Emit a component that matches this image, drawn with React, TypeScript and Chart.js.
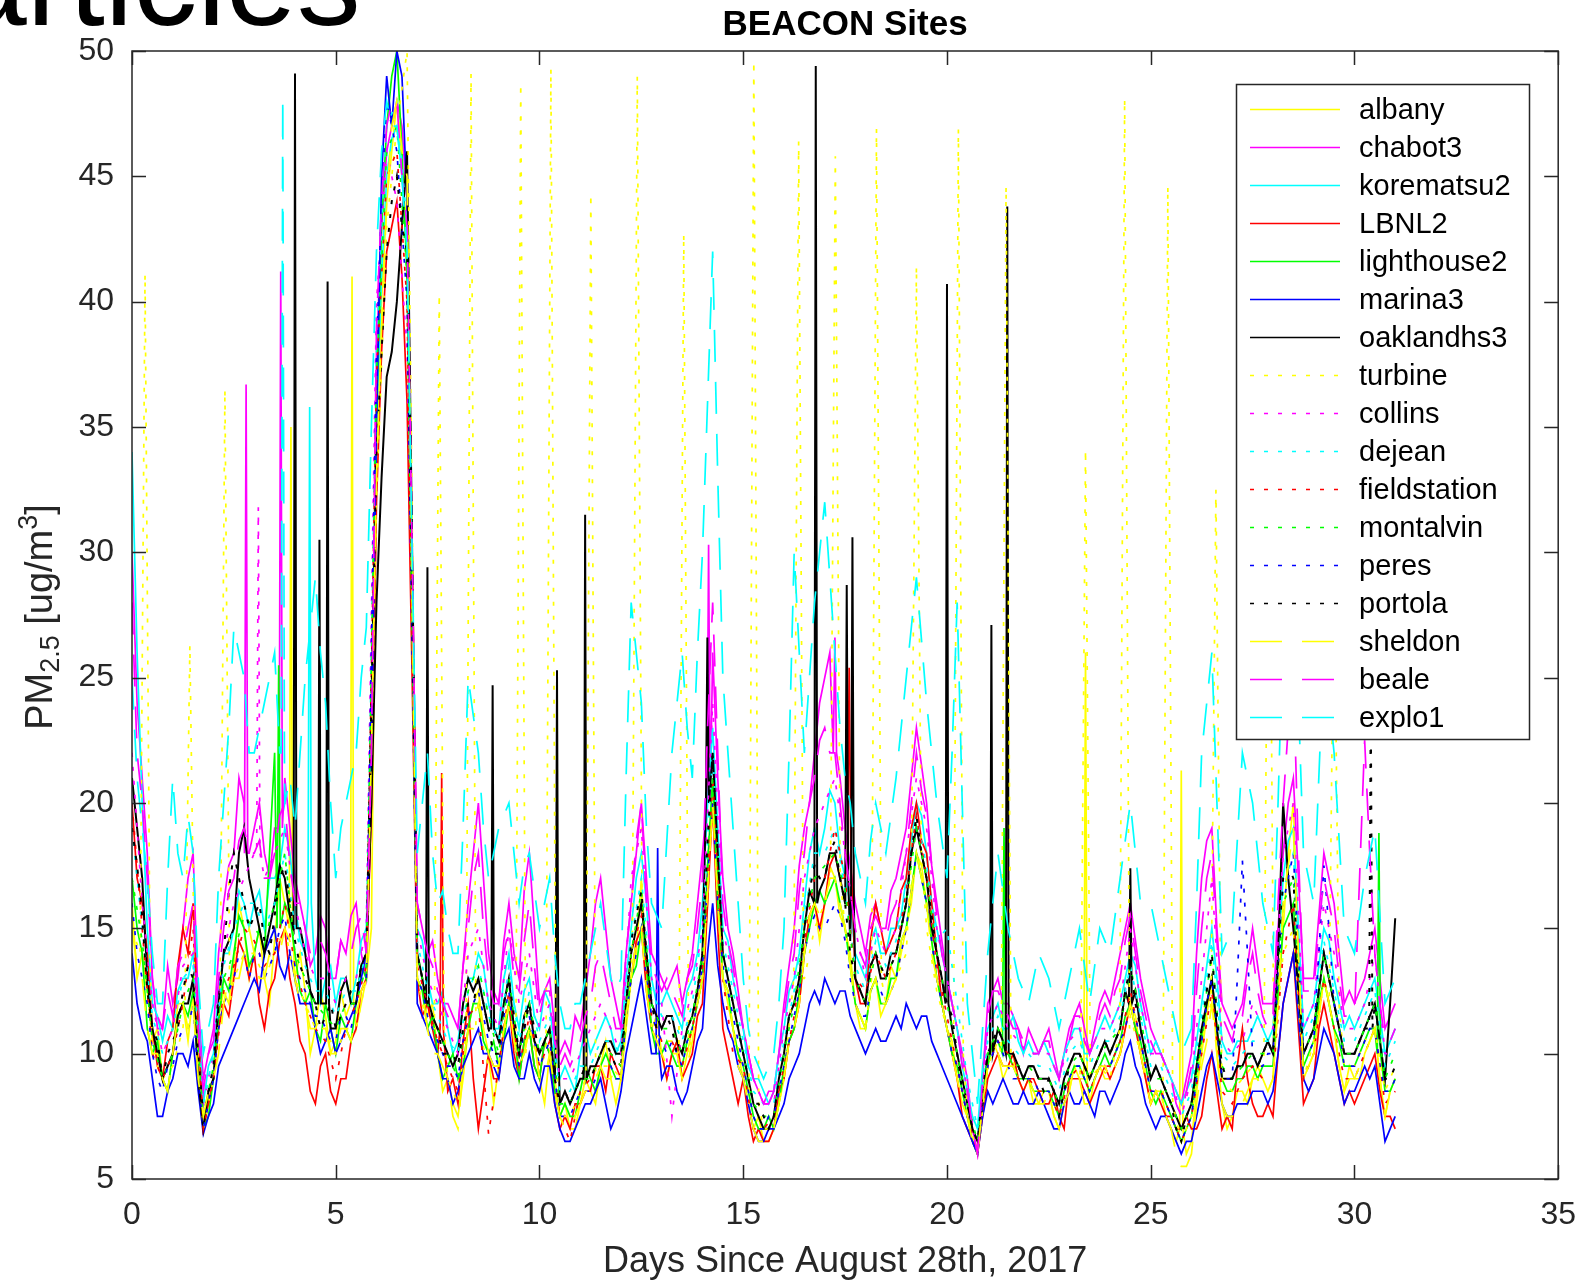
import React, { useEffect, useRef } from 'react';
import { Chart, registerables } from 'chart.js';

Chart.register(...registerables);

const W = 1593;
const H = 1282;
const FONT = '"Liberation Sans", Arial, Helvetica, sans-serif';

// Main samples every 0.25 day from day 0 to day 31 (125 values);
// "Mid" samples sit half way between them (day 0.125, 0.375, ...; 124 values).
const STEP_DAYS = 0.25;

const chartTitle = 'BEACON Sites';
const xAxisLabel = 'Days Since August 28th, 2017';
const xTicks = [0, 5, 10, 15, 20, 25, 30, 35];
const yTicks = [5, 10, 15, 20, 25, 30, 35, 40, 45, 50];

const albany = [
  16, 14, 10.5, 9, 10, 12, 12.5, 7.5,
  9, 12.5, 13.5, 15, 14, 13, 14.5, 16,
  13, 12.5, 11, 11.5, 10.5, 11.5, 11, 13,
  34, 44, 48, 43, 13, 11.5, 10, 9,
  7.5, 11, 12.5, 10, 9.5, 12, 9.5, 11,
  9, 10, 7.5, 7, 8, 8.5, 9.5, 9,
  9, 13, 17, 11, 10, 10, 9, 11,
  13, 21, 13, 11, 9, 7, 6.5, 7,
  9, 11, 14, 16, 16, 17, 15, 12,
  11, 13, 12, 13, 15, 18, 16, 13,
  11, 9, 7.5, 6, 9.5, 10, 9.5, 9,
  9, 8, 8.5, 7, 8.5, 9, 8, 9.5,
  9, 10, 12, 10, 8, 8.5, 7, 5.5,
  6.5, 10, 13, 8, 7.5, 8.5, 9, 9,
  9, 15, 20, 9, 10, 13, 11, 8.5,
  9, 10, 11, 7.5, 9,
];
const albanyMid = [
  13, 12.5, 11, 8.5, 12, 10.5, 10, 8,
  11.5, 12, 16, 13, 15, 12, 17, 14,
  14, 10, 12.5, 10, 12.5, 10, 12, 15,
  40, 46, 45, 30, 12.5, 12, 8.5, 8,
  9, 12, 11, 8, 11, 10.5, 10, 10.5,
  8, 9, 8, 7, 9, 8, 10.5, 8,
  11, 14, 13, 11.5, 9, 10.5, 10, 12,
  16, 17, 12, 10, 8, 7.5, 6.5, 8,
  10.5, 12, 15.5, 14.5, 17.5, 15.5, 14, 11,
  12.5, 11.5, 13.5, 14, 16, 17.5, 14.5, 12,
  10.5, 8, 7, 8, 10.5, 9, 10, 8.5,
  8, 8.5, 7.5, 8, 9.5, 8.5, 9, 9,
  9.5, 11, 11.5, 9, 8.5, 7.5, 6.5, 6,
  8.5, 11.5, 10, 7, 8.5, 8, 9.5, 8.5,
  12, 18, 14, 9.5, 11.5, 12, 9.5, 9.5,
  9, 10.5, 9, 8.5,
];
const chabot3 = [
  30, 21, 13, 11, 12, 15, 18, 9,
  11, 16, 18, 20, 19, 18, 19, 21,
  17, 15, 14, 15, 13, 14, 16, 13,
  38, 46, 48, 44, 16, 14, 13, 12,
  11, 16, 20, 14, 12, 16, 13, 18,
  12, 13, 10, 10, 11, 14, 17, 13,
  11, 16, 20, 14, 13, 13, 12, 14,
  18, 26, 17, 14, 11, 9, 8, 8.5,
  12, 15, 19, 22, 25, 24, 19, 16,
  14, 16, 15, 17, 19, 23, 20, 16,
  13, 11, 9, 6, 12, 13, 12, 11,
  11, 10, 11, 9, 11, 12, 10, 12,
  12, 14, 16, 13, 11, 10, 9, 8,
  10, 17, 19, 12, 11, 12, 15, 12,
  12, 18, 21, 13, 13, 18, 16, 12,
  12, 13, 15, 11, 12,
];
const chabot3Mid = [
  24, 18, 11, 13.5, 13, 17, 12, 10,
  14, 17.5, 21, 18, 20, 17, 22, 19,
  16, 13.5, 15.5, 13, 14.5, 15.5, 14, 20,
  43, 47, 47, 30, 15, 14.5, 12, 11.5,
  13.5, 18, 17, 12.5, 14.5, 14, 16.5, 15,
  12.5, 11, 10.5, 11.5, 12.5, 16, 15, 12,
  14, 18, 17, 13.5, 12.5, 13.5, 13, 16,
  22, 21, 15, 12.5, 10, 8.5, 8.5, 10,
  13.5, 17.5, 20, 24, 26, 21, 17.5, 15,
  15.5, 15, 16.5, 18, 21, 21.5, 17.5, 14.5,
  12, 10, 7, 9, 12.5, 12, 11.5, 10,
  10.5, 10.5, 10, 10, 11.5, 11, 11, 12.5,
  13, 15, 14.5, 12, 10.5, 9.5, 8.5, 9,
  14, 18.5, 15, 11.5, 11.5, 13.5, 13.5, 12,
  15, 20, 17, 13, 15.5, 17, 14, 12.5,
  12.5, 14, 13, 11.5,
];
const korematsu2 = [
  34, 20, 12, 10.5, 11, 13, 14, 8,
  10, 14, 15, 16, 16, 15, 17, 19,
  16, 14, 13, 13, 12, 13, 13, 15,
  35, 45, 47, 42, 15, 13, 12, 11,
  10.5, 13, 14, 12, 11, 14, 11, 13,
  11, 12, 9, 9, 10, 10, 11, 11,
  10.5, 15, 18, 13, 12, 12, 11, 13,
  16, 23, 15, 13, 11, 9, 8.5, 8.5,
  11, 13, 16, 19, 19, 20, 17, 14,
  13, 15, 14, 15, 17, 20, 18, 15,
  13, 11, 8.5, 7, 11, 12, 11, 10.5,
  10.5, 10, 10, 9, 10.5, 11, 10, 11,
  11, 12, 14, 12, 10, 10, 9, 8,
  9, 12, 15, 10.5, 10, 10.5, 11, 11,
  11, 17, 19, 11, 12, 15, 13, 11,
  11, 12, 13, 10, 11,
];
const korematsu2Mid = [
  26, 15, 11.5, 11.5, 12.5, 13, 11.5, 9.5,
  12.5, 14, 16.5, 15, 16.5, 17, 17.5, 18,
  14.5, 14, 12, 13.5, 13, 12, 14.5, 22,
  41, 46.5, 45, 28, 14.5, 12, 12.5, 10,
  12, 13, 13.5, 11, 13, 12, 12.5, 11.5,
  12.5, 10, 9.5, 8.5, 11, 10.5, 11.5, 10,
  13, 17, 16, 12, 12.5, 11.5, 12.5, 14,
  20, 19, 14.5, 12, 9.5, 9, 8, 10,
  12.5, 14, 18, 18, 20.5, 18, 16, 13.5,
  14.5, 14, 15, 15.5, 18.5, 19.5, 16, 14,
  12, 9.5, 7.5, 9.5, 11.5, 11, 11.5, 10,
  10, 10.5, 9.5, 10, 11, 10, 10.5, 11.5,
  11.5, 13, 13.5, 11, 10.5, 9.5, 8.5, 8.5,
  10.5, 13.5, 13, 10, 10.5, 10.5, 11.5, 10.5,
  14, 18.5, 15, 11.5, 13.5, 14.5, 12, 11.5,
  11.5, 12.5, 11.5, 10.5,
];
const LBNL2 = [
  20, 16, 11, 9, 11, 15, 16, 7,
  9, 12, 13, 14, 14, 11, 13, 15,
  12, 10, 8, 10, 8, 9, 11, 13,
  32, 42, 44, 36, 13, 12, 10, 8.5,
  8, 12, 7, 10, 9, 12, 9, 11,
  9, 10, 7, 7, 8, 8.5, 9.5, 10,
  9, 13, 15, 11, 10, 10, 9, 10,
  12, 20, 11, 9, 9, 6.5, 6.5, 7,
  9, 11, 14, 16, 16, 18, 17, 13,
  12, 16, 14, 15, 17, 20, 18, 14,
  11, 9, 7, 6, 9, 10, 9.5, 9,
  9, 8.5, 8, 7.5, 9, 9, 8, 9,
  9, 10, 12, 10, 8, 8, 7.5, 7,
  7, 7.5, 10, 7, 7, 11, 8, 7.5,
  7.5, 12, 14, 8, 9, 12, 10, 8,
  8, 9, 10, 7.5, 7,
];
const LBNL2Mid = [
  17, 14, 9.5, 10.5, 13.5, 14, 11, 8,
  11, 11.5, 14.5, 13, 12, 12.5, 14.5, 13,
  10.5, 8.5, 9.5, 8.5, 9, 10.5, 12.5, 20,
  38, 43, 41, 25, 11.5, 11, 9, 9,
  10.5, 9, 8.5, 9, 11, 10, 10.5, 9.5,
  10.5, 8, 7.5, 8, 8.5, 9.5, 8.5, 9.5,
  11.5, 14.5, 12.5, 10.5, 9, 10.5, 9.5, 11.5,
  16, 15, 10, 8, 7.5, 7, 6.5, 8.5,
  10.5, 12, 15.5, 15, 17.5, 17, 15.5, 12,
  14.5, 15, 14.5, 16.5, 19, 18.5, 16, 12,
  10, 7.5, 6.5, 7.5, 9.5, 9.5, 10, 8.5,
  9, 8, 8.5, 7, 9, 8.5, 8.5, 9.5,
  9.5, 11, 11, 9, 8.5, 7.5, 7, 7.5,
  7, 9, 8.5, 7.5, 9.5, 9, 7.5, 8,
  10, 13, 11, 8.5, 11, 11, 9, 8.5,
  8.5, 9.5, 8.5, 7.5,
];
const lighthouse2 = [
  17, 14, 10, 9, 10, 12, 12.5, 7,
  9, 13, 14, 15, 14, 14, 22, 16,
  14, 12, 11, 12, 10, 11, 12, 13,
  36, 47, 50, 41, 13, 11, 10, 9.5,
  9, 11, 12, 10, 9.5, 12, 9, 11,
  9, 10, 7.5, 7.5, 8.5, 9, 9.5, 9.5,
  9, 13, 15, 11, 10, 10, 9.5, 11,
  13, 21, 13, 11, 9.5, 7.5, 7, 7,
  9.5, 11, 14, 16, 16, 17, 15, 12,
  11, 13, 12, 13, 15, 18, 16, 13,
  11, 9.5, 7.5, 6, 9.5, 10.5, 10, 9,
  9, 8.5, 8.5, 7.5, 9, 9.5, 8.5, 9.5,
  9.5, 10.5, 12, 10.5, 8.5, 8.5, 7.5, 6.5,
  7.5, 10.5, 13, 9, 8.5, 9, 9.5, 9.5,
  9.5, 15, 16, 9.5, 10.5, 13, 11, 9.5,
  9.5, 10.5, 11, 8.5, 9,
];
const lighthouse2Mid = [
  15, 11, 10.5, 8.5, 11.5, 11.5, 9, 7.5,
  11.5, 12.5, 15.5, 13.5, 15, 18, 18, 15.5,
  12.5, 12.5, 10.5, 11, 11.5, 10.5, 13.5, 24,
  43, 49, 46, 27, 12.5, 11.5, 9, 10,
  9.5, 12, 10.5, 10.5, 10.5, 11, 10.5, 9.5,
  10.5, 8.5, 8, 7.5, 9.5, 8.5, 10, 9,
  11.5, 13.5, 13.5, 10, 10.5, 9.5, 10.5, 12,
  17.5, 16, 12.5, 10, 8.5, 7, 7.5, 8,
  10.5, 12.5, 15, 16.5, 16.5, 16, 13.5, 11.5,
  12.5, 12, 13, 14.5, 16.5, 17, 14.5, 12,
  10, 8.5, 6.5, 8, 10.5, 10, 9.5, 9,
  8.5, 8.5, 8, 8.5, 9.5, 9, 9, 10,
  10, 11.5, 11, 9.5, 8, 8, 7, 7,
  9, 12, 11, 8.5, 9, 9.5, 9, 9.5,
  12.5, 15.5, 12.5, 10, 12, 12, 10.5, 9.5,
  10, 11, 9.5, 8.5,
];
const marina3 = [
  14, 11, 9, 7.5, 9, 10, 10.5, 6.8,
  8, 10, 11, 12, 13, 14, 15, 13,
  13, 12, 11, 10.5, 10, 11, 12, 14,
  35, 49, 50, 44, 12, 11, 10, 9,
  8.5, 10, 11, 10, 9, 11, 9, 10,
  8.5, 9.5, 7, 6.5, 7.5, 8, 9, 7,
  8.5, 11, 13, 10, 9, 9.5, 8, 9.5,
  11, 16, 12, 10.5, 9, 7, 6.5, 7,
  8, 9.5, 11, 12.5, 13, 12, 12.5, 11,
  10, 11, 10.5, 11.5, 12, 11, 11.5, 10,
  9, 8, 7, 6, 8.5, 8.5, 8.5, 8,
  8, 8.5, 7.5, 7, 8.5, 8, 8, 8.5,
  8, 9, 10.5, 9, 7.5, 7.5, 7, 6,
  6.5, 8.5, 10, 8, 7.5, 8, 8.5, 8.5,
  8.5, 12, 14, 9, 9, 11, 10, 8,
  8.5, 9.5, 9.5, 6.5, 7.5,
];
const marina3Mid = [
  12, 10.5, 7.5, 8.5, 10, 9.5, 8.5, 7.5,
  9.5, 10.5, 11.5, 12.5, 12.5, 14.5, 13.5, 14,
  12, 12, 10, 11, 10.5, 11.5, 13, 22,
  45, 47, 49, 30, 11.5, 10.5, 9, 8,
  9.5, 10.5, 10, 9.5, 10.5, 9.5, 9, 9,
  9.5, 8, 6.5, 7, 8, 8.5, 8, 7.5,
  10, 12, 11.5, 9, 9.5, 8.5, 8.5, 10.5,
  14, 13.5, 11, 9.5, 8, 6.5, 7, 7.5,
  9, 10, 12, 12, 12.5, 12.5, 11.5, 10.5,
  10.5, 10.5, 11, 11, 11.5, 11.5, 10.5, 9.5,
  8.5, 7.5, 6.5, 7.5, 8, 9, 8, 8.5,
  8, 8, 7, 8, 8, 8.5, 7.5, 8.5,
  8.5, 10, 9.5, 8, 7, 7.5, 6.5, 6.5,
  7.5, 9.5, 9, 7.5, 8, 8, 8.5, 8,
  10, 13, 11.5, 8.5, 10, 10.5, 9, 8.5,
  9, 9, 8, 7,
];
const oaklandhs3 = [
  21, 17, 11, 9, 10, 12, 13, 7,
  9, 14, 15, 19, 16, 14, 16, 17,
  15, 14, 12, 12, 11, 13, 12, 14,
  28, 37, 40, 46, 14, 12, 11, 10,
  10, 13, 13, 11, 10.5, 13, 10, 12,
  10, 11, 8, 8, 9, 9.5, 10, 10.5,
  10, 14, 16, 12, 11, 11.5, 10, 11.5,
  14, 22, 14, 12, 10, 8, 7, 7.5,
  10, 12, 15, 17, 17, 18, 16, 13,
  12, 14, 13, 14, 16, 19, 17, 14,
  12, 10, 8, 6.5, 10, 11, 10, 9.5,
  9.5, 9, 9, 8, 9.5, 10, 9, 10,
  10, 11, 14, 11, 9, 9, 8, 7,
  8, 11, 13, 9, 9, 9.5, 10, 10,
  10, 20, 15, 10, 11, 14, 12, 10,
  10, 11, 12, 9, 15.4,
];
const oaklandhs3Mid = [
  19, 13, 10, 9.5, 11.5, 12, 9, 8.5,
  12, 14.5, 18, 17, 15, 15, 17.5, 15.5,
  15, 12.5, 13, 11, 12.5, 12, 13.5, 20,
  33, 38, 43, 30, 13, 11.5, 10.5, 9.5,
  12, 12.5, 12, 10, 12, 11, 11.5, 10.5,
  10.5, 9, 8.5, 8.5, 9.5, 9.5, 10.5, 10,
  12, 15, 14, 11.5, 11.5, 10.5, 11, 12.5,
  18, 18, 13, 11, 9, 7.5, 7, 9,
  11.5, 13, 16.5, 16.5, 18, 17, 14.5, 12.5,
  13.5, 13, 14, 15, 18, 18, 15, 13,
  11, 9, 7, 8, 10.5, 10.5, 10, 9,
  9.5, 9, 8.5, 9, 10, 9.5, 9.5, 10.5,
  10.5, 12.5, 12.5, 10, 9.5, 8.5, 7.5, 7.5,
  9.5, 12, 11, 9, 9.5, 10, 9.5, 10.5,
  14, 17, 12.5, 10.5, 12.5, 13, 11, 10,
  10.5, 11.5, 10.5, 12,
];
const turbine = [
  15, 13, 10, 9, 9.5, 11, 12, 7,
  9, 12, 13, 14, 14, 13, 14, 15,
  13, 12, 11, 11, 10, 11, 11, 13,
  32, 43, 47, 50, 13, 11, 10, 9,
  8, 10.5, 11, 9.5, 9.5, 12, 9.5, 11,
  9.5, 10, 7.5, 7.5, 8.5, 8.5, 9.5, 9.5,
  9, 13, 15, 11, 10.5, 10.5, 9.5, 11,
  13, 20, 13, 11, 9.5, 7.5, 7, 7,
  9, 10.5, 13, 15, 16, 17, 15, 12,
  11, 13, 12, 13, 14, 17, 15, 12.5,
  11, 9.5, 7.5, 6, 9.5, 10.5, 9.5, 9,
  9, 8.5, 8.5, 7.5, 9, 9.5, 8.5, 9.5,
  9, 10, 11.5, 10, 8.5, 8.5, 7.5, 6.5,
  7.5, 10.5, 13, 9, 8.5, 9, 9.5, 9.5,
  9, 14, 15, 9, 10.5, 13, 11, 9.5,
  9.5, 10.5, 11, 8.5, 9.5,
];
const collins = [
  22, 16, 12, 10, 11, 13.5, 14, 8,
  10, 14, 16, 17, 18, 17, 18, 19,
  16, 14, 13, 13, 12, 13, 13, 15,
  40, 46, 44, 38, 15, 13, 12, 11,
  10, 14, 15, 12, 11, 15, 12, 14,
  11, 12, 9, 9, 10, 11, 12, 11,
  10, 17, 19, 13, 12, 7.5, 11, 12.5,
  15, 24, 15, 13, 11, 9, 8, 8,
  11, 13, 17, 19, 20, 21, 18, 15,
  13, 15, 14, 15, 18, 21, 19, 15,
  13, 11, 8.5, 6, 11, 12, 11, 10.5,
  10, 10, 10, 9, 10.5, 11, 10, 11,
  11, 12, 15, 12, 10, 10, 9, 7.5,
  9, 13, 17, 10.5, 10, 10.5, 12, 11,
  11, 18, 20, 11, 12, 16, 14, 11,
  11, 12, 14, 10, 10,
];
const dejean = [
  19, 15, 11.5, 10, 11, 13, 13.5, 8,
  10, 13.5, 15, 16, 16, 15, 16, 18,
  15, 13.5, 12.5, 12.5, 11.5, 12.5, 12.5, 14,
  38, 47, 48, 43, 14.5, 12.5, 11.5, 10.5,
  10, 12.5, 13.5, 11.5, 10.5, 13.5, 10.5, 12.5,
  10.5, 11.5, 8.5, 8.5, 9.5, 9.5, 10.5, 10.5,
  10, 14.5, 17, 12.5, 11.5, 11.5, 10.5, 12,
  15, 22, 14.5, 12.5, 10.5, 8.5, 8, 8,
  10.5, 12.5, 15.5, 18, 18, 19, 16.5, 13.5,
  12.5, 14.5, 13.5, 14.5, 16.5, 19.5, 17.5, 14.5,
  15, 12, 9, 7, 10.5, 11.5, 10.5, 10,
  10, 9.5, 9.5, 8.5, 10, 10.5, 9.5, 10.5,
  10.5, 11.5, 13.5, 11.5, 9.5, 9.5, 8.5, 7.5,
  8.5, 11.5, 14.5, 10, 9.5, 10, 10.5, 10.5,
  10.5, 16.5, 18, 10.5, 11.5, 14.5, 12.5, 10.5,
  10.5, 11.5, 12.5, 9.5, 10.5,
];
const fieldstation = [
  20, 15, 10, 9, 10, 12, 15, 7,
  9, 12.5, 13.5, 15, 14.5, 13.5, 14, 16,
  13.5, 12, 11, 10.5, 9, 11, 12, 13.5,
  37, 45, 46, 40, 13.5, 12, 10.5, 9.5,
  8.5, 11.5, 12, 6.8, 9.5, 12.5, 9.5, 11.5,
  9.5, 10.5, 7.5, 6.5, 8.5, 9, 10, 10,
  9.5, 14, 15.5, 11.5, 10.5, 10.5, 9.5, 11,
  13.5, 21, 13, 10, 9.5, 7, 7, 7.5,
  9.5, 11.5, 14.5, 17, 17, 19, 17, 13,
  12.5, 14, 13, 14, 16.5, 19.5, 17, 13.5,
  11.5, 9.5, 7.5, 6, 9.5, 10.5, 10, 9,
  9, 8.5, 8.5, 7.5, 9, 9.5, 8.5, 9.5,
  9.5, 10.5, 12.5, 10.5, 8.5, 8.5, 7.5, 6.5,
  7.5, 10, 12.5, 8.5, 8, 9, 9.5, 9,
  9, 14, 16, 9, 10, 13, 11, 9,
  9, 10, 11, 8, 8.5,
];
const montalvin = [
  17, 14.5, 10.5, 9, 10, 12, 13, 7.5,
  9.5, 13, 14, 15.5, 15, 14.5, 16, 18,
  14, 13, 12, 11.5, 11, 12, 12, 13.5,
  37, 46, 47, 41, 14, 12, 11, 10,
  9, 12.5, 13.5, 11.5, 10, 13, 10, 12,
  10, 11, 8, 8, 9, 9, 10, 10,
  9.5, 14, 16.5, 12, 11, 11, 10, 11.5,
  14, 21, 14, 12, 10, 8, 7.5, 7.5,
  10, 12, 15, 17, 17.5, 18, 16.5, 13,
  12, 14, 13, 14, 16, 19, 17, 14,
  12, 10, 8, 6.5, 10, 11, 10, 9.5,
  9.5, 9, 9, 8, 9.5, 10, 9, 10,
  10.5, 11, 13.5, 11.5, 9, 9, 8, 7,
  8, 11, 14, 9.5, 9, 9.5, 10, 10,
  10, 16, 17, 10, 11, 14, 12, 10,
  10, 11, 12, 9, 10,
];
const peres = [
  16, 13, 10, 8.5, 9.5, 11, 12, 7,
  9, 12, 13, 14, 14, 13, 14, 15.5,
  13.5, 12.5, 11.5, 11, 10.5, 11.5, 12, 13,
  38, 48, 46, 40, 13, 11.5, 10.5, 9.5,
  9, 11.5, 12.5, 10.5, 9.5, 12.5, 9.5, 11.5,
  9.5, 10.5, 7.5, 7.5, 8.5, 8.5, 9.5, 9.5,
  9, 13, 15, 11.5, 10.5, 10.5, 9.5, 11,
  13.5, 20, 13.5, 11.5, 9.5, 7.5, 7, 7.5,
  9.5, 11.5, 14, 15.5, 15, 16, 14.5, 12,
  11.5, 13, 12, 13, 15, 18, 16, 13,
  11, 9.5, 7.5, 6, 9.5, 10.5, 9.5, 9,
  9, 8.5, 8.5, 7.5, 9, 9.5, 8.5, 9.5,
  9.5, 10.5, 12, 10.5, 8.5, 8.5, 7.5, 6.5,
  7.5, 10.5, 13, 9, 9, 17.7, 10, 9.5,
  10, 16, 18, 10, 10.5, 17.5, 12, 9.5,
  9.5, 10.5, 11, 8.5, 9,
];
const peresMid = [
  14, 12, 9, 9.5, 10.5, 11, 9, 8,
  11, 12.5, 14, 13, 14, 13.5, 15, 14,
  13, 12, 11.5, 10.5, 11.5, 11, 13, 26,
  44, 47, 43, 26, 12.5, 11, 10, 9.5,
  10.5, 12, 11.5, 10, 11.5, 10.5, 11, 10.5,
  10, 9, 7.5, 8, 8.5, 9, 9.5, 9,
  11.5, 14, 13, 11, 10, 10, 10.5, 12,
  17, 16, 12.5, 10.5, 8.5, 7, 7.5, 8.5,
  10.5, 12.5, 15, 15, 15.5, 15.5, 13, 11.5,
  12.5, 12.5, 12.5, 14, 16.5, 17, 14.5, 12,
  10, 8.5, 6.5, 8, 10, 10, 9, 9,
  9, 8.5, 8, 8.5, 9.5, 9, 9, 9.5,
  10, 11, 11.5, 9.5, 8.5, 8, 7, 7,
  9, 12, 11, 9, 13, 14, 9.5, 10,
  13, 17, 14, 10, 14, 15, 11, 9.5,
  10, 11, 9.5, 8.5,
];
const portola = [
  19, 15.5, 11, 9, 10.5, 12.5, 13, 7.5,
  9.5, 14, 18, 16, 15.5, 14.5, 15.5, 17.5,
  14.5, 13, 12, 11.5, 11, 12, 12.5, 14,
  34, 42, 45, 42, 14, 12, 11, 10,
  9.5, 12, 13, 11, 10, 13, 10, 12,
  10, 11, 8, 8, 9, 9, 10, 10,
  9.5, 14.5, 16.5, 12, 11, 11, 10, 11.5,
  14, 22, 14, 12, 10, 8, 7.5, 7.5,
  10, 12, 15, 17.5, 17, 18.5, 16, 13,
  12, 14, 13, 14, 16, 19.5, 17, 14,
  12, 10, 8, 6.5, 10, 11, 10, 9.5,
  9.5, 9, 9, 7.5, 9.5, 10, 9, 10,
  10, 11, 13.5, 11, 9, 9, 8, 6.5,
  8, 11, 14, 9.5, 9, 9.5, 10, 10,
  10, 17, 17, 10, 11, 14, 12, 10,
  10, 11, 12, 9, 9.5,
];
const portolaMid = [
  17.5, 12.5, 10.5, 10, 11, 13.5, 10, 8.5,
  12.5, 16.5, 17, 15, 16, 14, 17, 16,
  13.5, 12.5, 11, 12, 11.5, 12.5, 13.5, 24,
  38, 44, 43, 28, 13, 11.5, 10, 10,
  11, 12, 12, 10, 12, 11.5, 11, 11,
  10.5, 9, 8.5, 8.5, 9.5, 9.5, 10.5, 9.5,
  12, 15.5, 14, 11, 11.5, 10, 11, 12.5,
  18.5, 18, 13, 11, 9, 8, 7, 9,
  11.5, 13, 16.5, 17, 18, 17, 14, 12.5,
  13.5, 13.5, 13.5, 15, 18, 18, 15.5, 13,
  11.5, 8.5, 7, 8.5, 10.5, 10.5, 10, 9,
  9.5, 8.5, 8.5, 8.5, 10, 9.5, 9.5, 10.5,
  10.5, 12.5, 12, 10, 9.5, 8.5, 7, 7.5,
  9.5, 12.5, 11.5, 9, 9.5, 10, 9.5, 10.5,
  13.5, 17.5, 13, 10.5, 12.5, 13, 11, 10,
  10.5, 11.5, 10.5, 9,
];
const sheldon = [
  15, 13, 10, 9, 10, 12, 12, 7.5,
  9, 12, 13, 14, 14, 13, 14, 15,
  13, 12, 11, 11, 10, 11, 11.5, 13,
  33, 44, 48, 45, 13, 11, 10, 9,
  7, 11, 12, 10, 9.5, 12, 9.5, 11,
  9, 10, 7.5, 7, 8, 8.5, 9.5, 9,
  9, 13, 15, 11, 10, 10, 9, 10.5,
  13, 20, 13, 11, 9, 7, 6.5, 7,
  9, 11, 14, 16, 16, 17, 15, 12,
  11, 13, 12, 13, 15, 18, 16, 13,
  11, 9, 7.5, 6, 9.5, 10, 9.5, 9,
  9, 8, 8.5, 7, 8.5, 9, 8, 9.5,
  9, 10, 12, 10, 8, 8, 7, 5.5,
  6, 9.5, 12, 8, 7.5, 8, 9, 8.5,
  9, 16, 19, 9, 10, 13, 11, 8.5,
  9, 10, 11, 7.5, 9,
];
const sheldonMid = [
  13.5, 11, 10, 8.5, 11.5, 11, 9, 8.5,
  10, 13, 13, 15, 13, 14, 14, 14.5,
  12, 11, 11.5, 10, 11, 10.5, 12.5, 22,
  39, 47, 46, 28, 12.5, 10, 9.5, 7.5,
  9.5, 11, 11, 9.5, 11, 10.5, 10, 10.5,
  9, 8.5, 7, 7.5, 8.5, 9, 9, 9.5,
  11.5, 14.5, 12.5, 10.5, 9.5, 10, 9.5, 12,
  16.5, 16, 12.5, 9.5, 8, 6.5, 7, 8,
  10.5, 12, 15.5, 15.5, 17, 16, 13.5, 11.5,
  12.5, 12, 12.5, 14.5, 16.5, 17, 14, 12,
  10, 8, 6.5, 8, 10, 9.5, 9.5, 9,
  8.5, 8, 7.5, 8, 9.5, 8, 9, 9.5,
  9.5, 11, 11, 9, 8.5, 7.5, 6, 5.5,
  8, 10.5, 10, 7.5, 8, 8.5, 9, 8.5,
  12, 17.5, 14, 9.5, 11.5, 12, 9.5, 9,
  9.5, 10.5, 9, 8.5,
];
const beale = [
  28, 20, 13, 11, 11.5, 14, 16, 8.5,
  10.5, 15, 17, 19, 18, 17, 18, 20,
  16, 15, 14, 14, 13, 14, 15, 14,
  39, 47, 48, 43, 16, 14, 12.5, 11.5,
  11, 15, 18, 13, 12, 15, 12.5, 16,
  11.5, 12.5, 9.5, 9.5, 10.5, 12, 14, 12,
  11, 16, 20, 13.5, 12.5, 12.5, 11.5, 13.5,
  17, 28, 16, 13.5, 11, 9, 8, 8.5,
  11.5, 14, 18, 21, 23, 22, 18, 15,
  13.5, 15.5, 14.5, 16, 18, 22, 19.5, 15.5,
  13, 11, 8.5, 6, 11.5, 12.5, 11.5, 11,
  10.5, 10, 10.5, 9, 10.5, 11.5, 10, 11.5,
  11.5, 13, 15.5, 12.5, 10.5, 10, 9, 7.5,
  9.5, 15, 18, 11.5, 10.5, 11.5, 14, 11.5,
  11.5, 20, 25, 12.5, 12.5, 17, 15, 11.5,
  11.5, 22.5, 14, 10.5, 11,
];
const bealeMid = [
  22, 17, 11.5, 12.5, 13.5, 15, 11, 10,
  13, 16.5, 18.5, 18, 18.5, 17, 19.5, 17.5,
  16, 14, 14.5, 13, 14.5, 14, 15.5, 22,
  44, 48, 45, 30, 15, 13.5, 12, 11,
  13.5, 17, 15, 12, 14, 13, 14.5, 13.5,
  12.5, 10.5, 10, 10, 11.5, 13.5, 13, 11,
  14, 18.5, 16, 13, 13, 12, 13, 15,
  23, 22, 14.5, 12, 10, 8.5, 8, 10,
  13, 16.5, 20, 22.5, 22, 20, 16.5, 14,
  15, 15, 15.5, 17, 20, 20.5, 17.5, 14,
  12, 9.5, 7, 9, 12.5, 12, 11, 10.5,
  10, 10.5, 9.5, 10, 11.5, 10.5, 10.5, 12,
  12.5, 14.5, 14, 11.5, 10, 9.5, 8, 8.5,
  12.5, 17, 14.5, 11, 11.5, 13, 12.5, 11,
  16, 23, 18, 12.5, 15, 16, 13, 11.5,
  17, 18, 12, 10.5,
];
const explo1 = [
  25, 19, 14, 12, 21, 17, 18, 10,
  12, 20, 27, 25, 22, 24, 26, 20,
  19, 25, 29, 24, 17, 20, 22, 27,
  42, 48, 47, 42, 18, 22, 16, 15,
  14, 25, 22, 17, 19, 20, 16, 18,
  15, 17, 12, 11, 12, 14, 16, 13,
  13, 28, 24, 16, 15, 22, 26, 21,
  30, 42, 25, 19, 13, 10, 9, 10,
  15, 30, 22, 28, 32, 26, 21, 18,
  16, 20, 18, 21, 25, 29, 24, 20,
  17, 28, 12, 8, 14, 18, 15, 13,
  12, 14, 13, 11, 13, 15, 12, 15,
  14, 17, 20, 16, 16, 14, 12, 10,
  11, 22, 26, 14, 15, 22, 20, 16,
  14, 27, 30, 18, 16, 26, 22, 15,
  14, 17, 19, 12, 13,
];
const explo1Mid = [
  21, 17, 12, 17, 18, 19.5, 13, 11,
  17, 23, 26, 22, 23, 25, 22, 21,
  22, 27, 26, 20, 19, 21, 25, 35,
  46, 47, 45, 30, 20, 18, 16.5, 14,
  19, 23.5, 19, 18, 19.5, 18, 17.5, 16.5,
  16, 14, 11, 12, 13, 15, 14.5, 12.5,
  21, 26, 19, 15.5, 18.5, 24, 23, 26,
  36, 33, 22, 16, 11, 9.5, 9.5, 12,
  22, 26, 25, 30, 29, 23, 20, 17,
  18.5, 19, 19.5, 23, 27, 26.5, 22, 18.5,
  22, 20, 10, 11, 16, 16.5, 14, 12.5,
  13, 13.5, 12, 12, 14, 13.5, 13.5, 14.5,
  15.5, 18.5, 18, 16, 15, 13, 11, 10.5,
  16, 24, 20, 14.5, 18.5, 21, 18, 15,
  20, 28.5, 24, 17, 21, 24, 18.5, 14.5,
  15.5, 18, 15.5, 12.5,
];

// Short excursions: [day, level either side, peak value]
const albanySpikes = [[3.9, 15, 35], [5.4, 12, 41], [23.4, 9, 26], [25.75, 7, 21.3]];
const chabot3Spikes = [[2.8, 18, 36.7], [3.65, 19, 41.2], [14.15, 20, 30.3], [17.25, 22, 26.6]];
const korematsu2Spikes = [[4.36, 16, 35.8]];
const LBNL2Spikes = [[7.6, 11, 21.2], [17.6, 18, 25.4]];
const lighthouse2Spikes = [[3.6, 15, 25.5], [21.4, 10, 19], [30.6, 10, 18.8]];
const marina3Spikes = [[12.9, 10, 18.2]];
const oaklandhs3Spikes = [
  [4.0, 15, 49.1], [4.6, 12, 30.5], [4.8, 12, 40.8], [7.25, 12, 29.4], [8.85, 11, 24.7],
  [10.43, 10, 25.3], [11.12, 9, 31.5], [14.12, 20, 26.6], [16.78, 16, 49.4], [17.54, 17, 28.7],
  [17.68, 16, 30.6], [20.0, 12, 40.7], [21.09, 10, 27.1], [21.48, 10, 43.8], [24.5, 12, 17.4],
];
const turbineSpikes = [
  [0.32, 14, 41.1], [1.42, 12, 26.3], [2.28, 12, 36.5], [7.54, 11, 40.3], [8.32, 11, 49.1],
  [9.54, 10, 48.7], [10.28, 10, 49.3], [11.26, 9, 44.3], [12.4, 15, 49], [13.54, 10, 42.7],
  [15.26, 8, 49.6], [16.36, 13, 46.4], [17.26, 17, 45.8], [18.27, 13, 46.9], [19.25, 18, 41.4],
  [20.28, 10, 46.9], [21.45, 10, 44.6], [23.4, 9, 34.1], [24.36, 11, 48.1], [25.42, 8, 44.6],
  [26.6, 12, 32.5], [27.9, 10, 38], [29.5, 12, 30],
];
const collinsSpikes = [[3.1, 18, 31.8]];
const portolaSpikes = [[30.4, 11, 24]];
const explo1Spikes = [[3.7, 22, 48.2]];
const noSpikes: number[][] = [];
const noMid: number[] = [];

const YELLOW = '#ffff00';
const MAGENTA = '#ff00ff';
const CYAN = '#00ffff';
const RED = '#ff0000';
const GREEN = '#00ff00';
const BLUE = '#0000ff';
const BLACK = '#000000';
const SOLID: number[] = [];
const DOTTED = [4, 10];
const DASHED = [32, 20];

const seriesDefs = [
  { label: 'albany', values: albany, mid: albanyMid, spikes: albanySpikes, color: YELLOW, dash: SOLID, hw: 0.04 },
  { label: 'chabot3', values: chabot3, mid: chabot3Mid, spikes: chabot3Spikes, color: MAGENTA, dash: SOLID, hw: 0.04 },
  { label: 'korematsu2', values: korematsu2, mid: korematsu2Mid, spikes: korematsu2Spikes, color: CYAN, dash: SOLID, hw: 0.04 },
  { label: 'LBNL2', values: LBNL2, mid: LBNL2Mid, spikes: LBNL2Spikes, color: RED, dash: SOLID, hw: 0.04 },
  { label: 'lighthouse2', values: lighthouse2, mid: lighthouse2Mid, spikes: lighthouse2Spikes, color: GREEN, dash: SOLID, hw: 0.04 },
  { label: 'marina3', values: marina3, mid: marina3Mid, spikes: marina3Spikes, color: BLUE, dash: SOLID, hw: 0.04 },
  { label: 'oaklandhs3', values: oaklandhs3, mid: oaklandhs3Mid, spikes: oaklandhs3Spikes, color: BLACK, dash: SOLID, hw: 0.035 },
  { label: 'turbine', values: turbine, mid: noMid, spikes: turbineSpikes, color: YELLOW, dash: DOTTED, hw: 0.12 },
  { label: 'collins', values: collins, mid: noMid, spikes: collinsSpikes, color: MAGENTA, dash: DOTTED, hw: 0.04 },
  { label: 'dejean', values: dejean, mid: noMid, spikes: noSpikes, color: CYAN, dash: DOTTED, hw: 0.04 },
  { label: 'fieldstation', values: fieldstation, mid: noMid, spikes: noSpikes, color: RED, dash: DOTTED, hw: 0.04 },
  { label: 'montalvin', values: montalvin, mid: noMid, spikes: noSpikes, color: GREEN, dash: DOTTED, hw: 0.04 },
  { label: 'peres', values: peres, mid: peresMid, spikes: noSpikes, color: BLUE, dash: DOTTED, hw: 0.04 },
  { label: 'portola', values: portola, mid: portolaMid, spikes: portolaSpikes, color: BLACK, dash: DOTTED, hw: 0.04 },
  { label: 'sheldon', values: sheldon, mid: sheldonMid, spikes: noSpikes, color: YELLOW, dash: DASHED, hw: 0.04 },
  { label: 'beale', values: beale, mid: bealeMid, spikes: noSpikes, color: MAGENTA, dash: DASHED, hw: 0.04 },
  { label: 'explo1', values: explo1, mid: explo1Mid, spikes: explo1Spikes, color: CYAN, dash: DASHED, hw: 0.04 },
];

function buildPoints(values: number[], mid: number[], spikes: number[][], hw: number) {
  const pts = values.map((v, i) => ({ x: i * STEP_DAYS, y: v }));
  mid.forEach((v, i) => pts.push({ x: i * STEP_DAYS + STEP_DAYS / 2, y: v }));
  const kept = pts.filter((p) => !spikes.some((s) => Math.abs(p.x - s[0]) <= hw + 1e-9));
  for (const [d, base, peak] of spikes) {
    kept.push({ x: d - hw, y: base }, { x: d, y: peak }, { x: d + hw, y: base });
  }
  kept.sort((a, b) => a.x - b.x);
  return kept;
}

const AXIS_COLOR = '#262626';

const decorPlugin = {
  id: 'matlabDecor',
  afterDatasetsDraw(chart: any) {
    const { ctx, chartArea: a, scales } = chart;
    const xs = scales.x;
    const ys = scales.y;
    ctx.save();
    ctx.setLineDash([]);
    ctx.strokeStyle = AXIS_COLOR;
    ctx.lineWidth = 1.5;
    ctx.strokeRect(a.left, a.top, a.right - a.left, a.bottom - a.top);
    ctx.beginPath();
    const tl = 14;
    for (const t of xTicks) {
      const px = Math.round(xs.getPixelForValue(t)) + 0.5;
      ctx.moveTo(px, a.bottom);
      ctx.lineTo(px, a.bottom - tl);
      ctx.moveTo(px, a.top);
      ctx.lineTo(px, a.top + tl);
    }
    for (const t of yTicks) {
      const py = Math.round(ys.getPixelForValue(t)) + 0.5;
      ctx.moveTo(a.left, py);
      ctx.lineTo(a.left + tl, py);
      ctx.moveTo(a.right, py);
      ctx.lineTo(a.right - tl, py);
    }
    ctx.stroke();
    ctx.restore();
  },
  afterDraw(chart: any) {
    const { ctx, chartArea: a } = chart;
    ctx.save();
    ctx.fillStyle = '#000';
    ctx.font = `bold 35px ${FONT}`;
    ctx.textAlign = 'center';
    ctx.textBaseline = 'middle';
    ctx.fillText(chartTitle, (a.left + a.right) / 2, 25);

    ctx.fillStyle = AXIS_COLOR;
    ctx.font = `36px ${FONT}`;
    ctx.fillText(xAxisLabel, (a.left + a.right) / 2, 1262);

    const parts = [
      { t: 'PM', f: 38, dy: 0 },
      { t: '2.5', f: 27, dy: 7 },
      { t: ' [ug/m', f: 38, dy: 0 },
      { t: '3', f: 27, dy: -15 },
      { t: ']', f: 38, dy: 0 },
    ];
    let total = 0;
    for (const p of parts) {
      ctx.font = `${p.f}px ${FONT}`;
      total += ctx.measureText(p.t).width;
    }
    ctx.translate(52, 617);
    ctx.rotate(-Math.PI / 2);
    ctx.textAlign = 'left';
    ctx.textBaseline = 'alphabetic';
    let cx = -total / 2;
    for (const p of parts) {
      ctx.font = `${p.f}px ${FONT}`;
      ctx.fillText(p.t, cx, p.dy);
      cx += ctx.measureText(p.t).width;
    }
    ctx.restore();

    ctx.save();
    const lx = 1236, ly = 84, lw = 293, lh = 655;
    ctx.fillStyle = '#ffffff';
    ctx.fillRect(lx, ly, lw, lh);
    ctx.strokeStyle = AXIS_COLOR;
    ctx.lineWidth = 1.5;
    ctx.setLineDash([]);
    ctx.strokeRect(lx + 0.5, ly + 0.5, lw, lh);
    ctx.font = `29px ${FONT}`;
    ctx.textAlign = 'left';
    ctx.textBaseline = 'middle';
    seriesDefs.forEach((s, i) => {
      const y = Math.round(108.5 + i * 38) + 0.5;
      ctx.strokeStyle = s.color;
      ctx.lineWidth = 1.6;
      ctx.setLineDash(s.dash);
      ctx.beginPath();
      ctx.moveTo(1250, y);
      ctx.lineTo(1340, y);
      ctx.stroke();
      ctx.fillStyle = '#000';
      ctx.fillText(s.label, 1359, y + 1);
    });
    ctx.restore();
  },
};

export default function App() {
  const ref = useRef<HTMLCanvasElement>(null);
  useEffect(() => {
    const canvas = ref.current;
    if (!canvas) return;
    const chart = new Chart(canvas, {
      type: 'line',
      data: {
        datasets: seriesDefs.map((s, i) => ({
          label: s.label,
          data: buildPoints(s.values, s.mid, s.spikes, s.hw),
          borderColor: s.color,
          backgroundColor: s.color,
          borderWidth: s.color === BLACK ? 2 : 1.7,
          borderDash: s.dash,
          pointRadius: 0,
          pointHoverRadius: 0,
          fill: false,
          tension: 0,
          order: seriesDefs.length - i,
        })),
      },
      options: {
        responsive: false,
        animation: false,
        devicePixelRatio: 1,
        events: [],
        layout: { padding: { left: 0, top: 51, right: 32, bottom: 0 } },
        plugins: {
          legend: { display: false },
          title: { display: false },
          tooltip: { enabled: false },
        },
        scales: {
          x: {
            type: 'linear',
            min: 0,
            max: 35,
            afterFit: (s: any) => { s.height = 103; },
            ticks: {
              stepSize: 5,
              maxRotation: 0,
              autoSkip: false,
              padding: 17,
              color: AXIS_COLOR,
              font: { size: 32, family: FONT },
            },
            grid: { display: false, drawTicks: false },
            border: { display: false },
          },
          y: {
            type: 'linear',
            min: 5,
            max: 50,
            afterFit: (s: any) => { s.width = 132; },
            ticks: {
              stepSize: 5,
              autoSkip: false,
              padding: 18,
              color: AXIS_COLOR,
              font: { size: 32, family: FONT },
            },
            grid: { display: false, drawTicks: false },
            border: { display: false },
          },
        },
      },
      plugins: [decorPlugin],
    } as any);
    return () => chart.destroy();
  }, []);

  return (
    <div style={{ position: 'absolute', left: 0, top: 0, width: W, height: H, overflow: 'hidden', background: '#fff' }}>
      <canvas ref={ref} width={W} height={H} style={{ position: 'absolute', left: 0, top: 0, width: W, height: H }} />
      <div
        style={{
          position: 'absolute',
          left: -130,
          top: -83,
          fontFamily: FONT,
          fontSize: 128,
          lineHeight: 1,
          whiteSpace: 'nowrap',
          color: '#000',
        }}
      >
        Particles
      </div>
    </div>
  );
}
